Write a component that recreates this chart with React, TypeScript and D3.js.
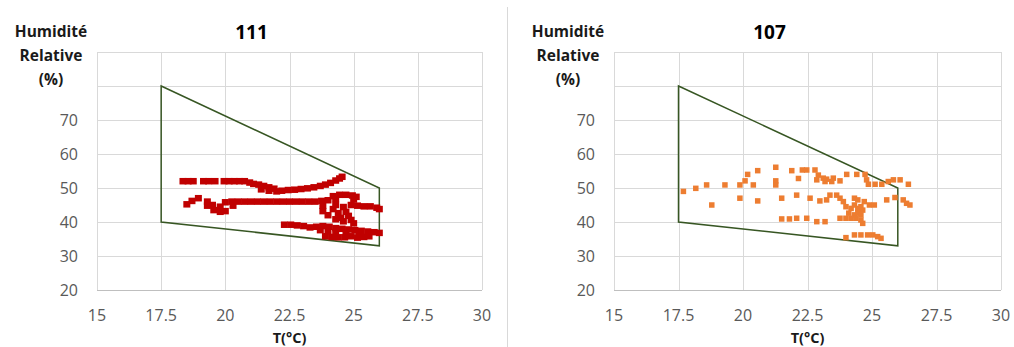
import { useEffect, useRef } from "react";
import * as d3 from "d3";

type Pt = [number, number];

const titles = ["111", "107"];
const xTicks = [15, 17.5, 20, 22.5, 25, 27.5, 30];
const yGrid = [20, 30, 40, 50, 60, 70, 80, 90];
const yLabels = [20, 30, 40, 50, 60, 70];

// comfort envelope (T °C, HR %)
const envelopeT = [17.5, 26, 26, 17.5];
const envelopeH = [80, 50, 33, 40];

// room 111 readings [T, HR]
const room111: Pt[] = [
  [18.35, 52], [18.55, 52], [18.75, 52], [19.15, 52], [19.35, 52], [19.6, 52],
  [19.95, 52], [20.15, 52], [20.35, 52], [20.55, 52], [20.75, 52], [20.95, 51.6],
  [21.1, 51.2], [21.3, 51], [21.5, 50.6], [21.7, 50.2], [21.9, 49.8], [21.4, 49.6],
  [21.7, 49.2], [22.0, 49], [22.2, 49.2], [22.45, 49.4], [22.7, 49.5], [22.95, 49.7],
  [23.2, 49.9], [23.45, 50.2], [23.7, 50.6], [23.9, 51], [24.1, 51.5], [24.3, 52.2],
  [24.45, 52.8], [24.55, 53.3],
  [18.5, 45.2], [18.7, 46.2], [18.95, 47], [19.3, 46], [19.3, 44.8], [19.55, 43.5],
  [19.5, 45], [19.8, 43], [19.8, 44.5], [20.0, 43.2], [20.0, 45.8], [20.3, 44.8],
  [20.25, 46], [20.5, 46], [20.75, 46], [21.0, 46], [21.25, 46], [21.5, 46],
  [21.75, 46], [22.0, 46], [22.25, 46], [22.5, 46], [22.75, 46], [23.0, 46],
  [23.25, 46], [23.5, 46], [23.75, 46.2], [24.0, 46.4], [24.2, 47.6], [24.45, 48],
  [24.7, 48], [24.95, 47.8], [25.1, 47.4], [24.3, 46.8], [25.0, 46.6], [24.9, 45],
  [25.15, 44.8], [25.4, 44.6], [25.65, 44.6], [25.9, 44.2], [26.0, 43.8],
  [23.8, 44.8], [23.8, 43.2], [24.0, 42], [24.2, 43.8], [24.3, 45], [24.4, 42.6],
  [24.5, 41.2], [24.6, 40.2], [24.7, 43], [24.8, 41.8], [24.9, 40.6], [25.0, 39.6],
  [24.3, 40.8], [24.6, 44.4],
  [22.3, 39.2], [22.55, 39.2], [22.8, 39], [23.05, 38.8], [23.3, 38.4], [23.55, 38.6],
  [23.8, 38.8], [24.05, 38.6], [24.3, 38.2], [24.55, 38], [24.8, 37.8], [25.05, 37.6],
  [25.3, 37.4], [25.55, 37.2], [25.8, 37], [26.0, 36.8], [23.7, 37.6], [24.0, 37.2],
  [24.3, 37],
  [23.9, 35.8], [24.15, 35.6], [24.4, 35.5], [24.65, 35.5], [24.9, 35.8], [25.15, 35.4],
  [25.4, 35.6], [25.6, 35.8], [24.7, 36.6], [25.2, 36.8],
];

// room 107 readings [T, HR]
const room107: Pt[] = [
  [17.69, 49], [18.17, 49.9], [18.59, 50.9], [18.79, 45], [19.3, 50.9], [19.88, 50.9],
  [19.88, 47], [20.08, 52.1], [20.18, 54], [20.4, 50.9], [20.57, 55.1], [20.57, 46.2],
  [21.27, 56.1], [21.27, 52.1], [21.27, 50.9], [21.5, 47], [21.5, 40.9], [21.8, 40.9],
  [21.89, 55.1], [22.08, 47.9], [22.08, 41.1], [22.15, 52.8], [22.3, 55.3], [22.47, 55.3],
  [22.47, 41.1], [22.79, 55.3], [22.86, 40.1], [23.18, 40.1], [22.92, 53.8], [22.86, 52.4],
  [23.11, 52.9], [23.24, 52.6], [23.5, 52.9], [23.18, 51.9], [23.44, 51.9], [23.76, 52.1],
  [24.02, 54], [24.41, 54], [24.73, 54], [24.79, 52.4], [24.86, 51.1], [25.12, 51.1],
  [25.38, 51.1], [25.63, 51.9], [25.83, 52.4], [26.09, 52.4], [26.41, 51.1],
  [22.6, 47], [22.98, 46.2], [23.24, 46.5], [23.37, 47.9], [23.63, 47.9], [23.76, 47],
  [23.89, 46],
  [23.99, 44.5], [24.19, 44], [24.32, 45], [24.45, 44], [24.57, 44.5], [24.64, 43.5],
  [24.1, 42.6], [24.32, 42.1], [24.45, 42.6], [24.57, 42.1], [23.76, 41.1], [23.99, 41.1],
  [24.19, 41.1], [24.38, 41.1], [24.57, 40.6], [24.64, 39.6], [24.7, 46], [24.9, 45],
  [25.09, 45], [24.32, 47], [24.45, 46.5],
  [25.57, 46.5], [25.89, 47.2], [26.21, 46.5], [26.34, 45.5], [26.47, 45],
  [23.99, 35.4], [24.32, 36.2], [24.57, 36.2], [24.83, 36.2], [25.03, 36.2], [25.22, 35.7],
  [25.35, 35.2],
];

const panels = [
  { title: titles[0], data: room111, color: "#c00000", w: 7, h: 6.5, x0: 97, x1: 482 },
  { title: titles[1], data: room107, color: "#ed7d31", w: 5.5, h: 5.5, x0: 614, x1: 1001 },
];

const font = "'Open Sans', 'Noto Sans', sans-serif";

export default function App() {
  const svgRef = useRef<SVGSVGElement>(null);

  useEffect(() => {
    if (!svgRef.current) return;
    const svg = d3.select(svgRef.current);
    svg.selectAll("*").remove();

    svg.append("rect").attr("width", 1014).attr("height", 347).attr("fill", "#fff");

    // separator between the two charts
    svg
      .append("line")
      .attr("x1", 507.5)
      .attr("x2", 507.5)
      .attr("y1", 7)
      .attr("y2", 347)
      .attr("stroke", "#d9d9d9");

    panels.forEach((p) => {
      const x = d3.scaleLinear().domain([15, 30]).range([p.x0, p.x1]);
      const y = d3.scaleLinear().domain([20, 90]).range([290, 52]);
      const g = svg.append("g");
      const mid = (p.x0 + p.x1) / 2;

      // gridlines
      g.selectAll(".gy")
        .data(yGrid)
        .enter()
        .append("line")
        .attr("x1", p.x0)
        .attr("x2", p.x1)
        .attr("y1", (d) => Math.round(y(d)) + 0.5)
        .attr("y2", (d) => Math.round(y(d)) + 0.5)
        .attr("stroke", (d) => (d === 20 ? "#bfbfbf" : "#d9d9d9"));

      g.selectAll(".gx")
        .data(xTicks)
        .enter()
        .append("line")
        .attr("x1", (d) => Math.round(x(d)) + 0.5)
        .attr("x2", (d) => Math.round(x(d)) + 0.5)
        .attr("y1", y(90))
        .attr("y2", y(20))
        .attr("stroke", "#d9d9d9");

      // tick labels
      g.selectAll(".ly")
        .data(yLabels)
        .enter()
        .append("text")
        .attr("x", p.x0 - 19)
        .attr("y", (d) => y(d))
        .attr("dy", "0.35em")
        .attr("text-anchor", "end")
        .attr("font-family", font)
        .attr("font-size", 16)
        .attr("fill", "#595959")
        .text((d) => d);

      g.selectAll(".lx")
        .data(xTicks)
        .enter()
        .append("text")
        .attr("x", (d) => x(d))
        .attr("y", 321)
        .attr("text-anchor", "middle")
        .attr("font-family", font)
        .attr("font-size", 16)
        .attr("fill", "#595959")
        .text((d) => d);

      // envelope polygon
      const env = envelopeT.map((t, i) => [x(t), y(envelopeH[i])] as [number, number]);
      g.append("path")
        .attr("d", d3.line()(env) + "Z")
        .attr("fill", "none")
        .attr("stroke", "#375623")
        .attr("stroke-width", 1.5);

      // readings
      g.selectAll(".pt")
        .data(p.data)
        .enter()
        .append("rect")
        .attr("x", (d) => x(d[0]) - p.w / 2)
        .attr("y", (d) => y(d[1]) - p.h / 2)
        .attr("width", p.w)
        .attr("height", p.h)
        .attr("fill", p.color);

      // titles
      g.append("text")
        .attr("x", mid - 38)
        .attr("y", 39)
        .attr("text-anchor", "middle")
        .attr("font-family", font)
        .attr("font-weight", 700)
        .attr("font-size", 19)
        .attr("fill", "#000")
        .text(p.title);

      const yt = g
        .append("text")
        .attr("text-anchor", "middle")
        .attr("font-family", font)
        .attr("font-weight", 700)
        .attr("font-size", 15.5)
        .attr("fill", "#1a1a1a");
      ["Humidité", "Relative", "(%)"].forEach((s, i) => {
        yt.append("tspan")
          .attr("x", p.x0 - 46)
          .attr("y", 36.5 + i * 24)
          .text(s);
      });

      g.append("text")
        .attr("x", mid)
        .attr("y", 343)
        .attr("text-anchor", "middle")
        .attr("font-family", font)
        .attr("font-weight", 700)
        .attr("font-size", 14.5)
        .attr("fill", "#1a1a1a")
        .text("T(°C)");
    });
  }, []);

  return (
    <svg
      ref={svgRef}
      width={1014}
      height={347}
      style={{ position: "absolute", left: 0, top: 0, display: "block" }}
    ></svg>
  );
}
